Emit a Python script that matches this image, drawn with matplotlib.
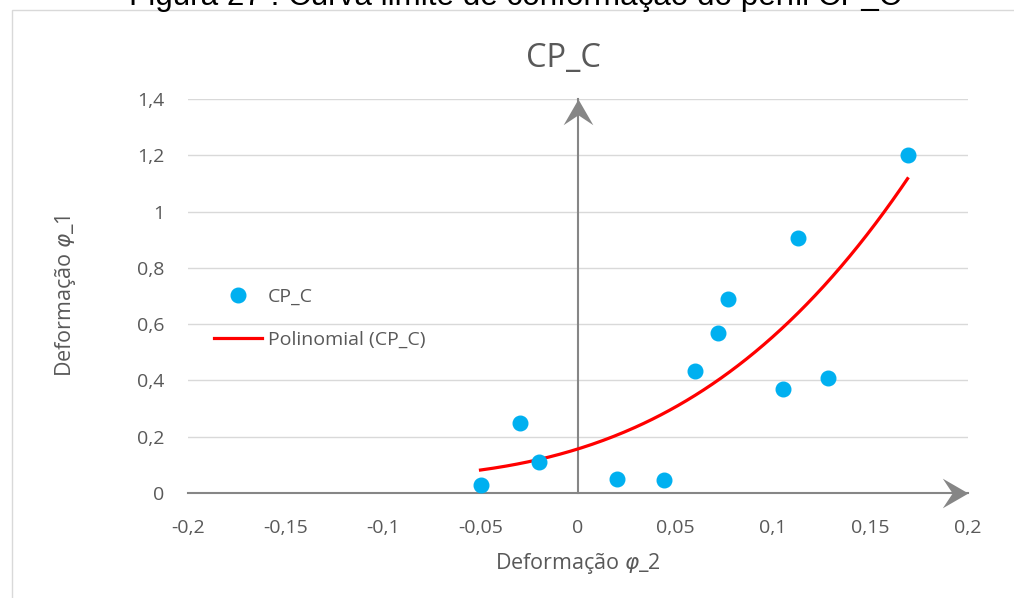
import numpy as np
import matplotlib
matplotlib.use('Agg')
import matplotlib.pyplot as plt
from matplotlib.path import Path
from matplotlib.patches import Rectangle

plt.rcParams['font.family'] = ['Open Sans', 'DejaVu Sans']
plt.rcParams['mathtext.fontset'] = 'dejavusans'

# data (phi_2, phi_1)
phi2 = [-0.05, -0.03, -0.02, 0.02, 0.044, 0.06, 0.072, 0.077, 0.105, 0.113, 0.128, 0.169]
phi1 = [0.03, 0.25, 0.11, 0.05, 0.045, 0.435, 0.57, 0.69, 0.37, 0.905, 0.41, 1.20]
xticks = [-0.2, -0.15, -0.1, -0.05, 0, 0.05, 0.1, 0.15, 0.2]
yticks = [0, 0.2, 0.4, 0.6, 0.8, 1.0, 1.2, 1.4]

grey_txt = '#595959'
axis_col = '#868686'
W, H = 1014, 598

def fmt(v):
    return ('%g' % v).replace('.', ',')

fig = plt.figure(figsize=(W/100, H/100), dpi=100)
ax = fig.add_axes([188/W, 105/H, 780/W, 394/H])

# outer chart frame
fig.patches.append(Rectangle((12/W, -0.1), 1.2, 1.1 - 10/H, transform=fig.transFigure,
                             fill=False, edgecolor='#d9d9d9', lw=1))

# trendline (Excel "Polinomial")
coef = np.polyfit(phi2, phi1, 3)
xs = np.linspace(min(phi2), max(phi2), 200)
ax.plot(xs, np.polyval(coef, xs), color='#ff0000', lw=2.3, label='Polinomial (CP_C)', zorder=4)
ax.plot(phi2, phi1, 'o', color='#00b0f0', ms=10.5, mec='#00b0f0', label='CP_C', zorder=5, ls='none')

ax.set_xlim(-0.2, 0.2)
ax.set_ylim(0, 1.4)
ax.set_xticks(xticks)
ax.set_yticks(yticks)
ax.set_xticklabels([fmt(v) for v in xticks])
ax.set_yticklabels([fmt(v) for v in yticks])
ax.tick_params(length=0, labelsize=14, colors=grey_txt)
ax.tick_params(axis='x', pad=19)
ax.tick_params(axis='y', pad=17)
for s in ax.spines.values():
    s.set_visible(False)
ax.grid(axis='y', color='#d9d9d9', lw=1)
ax.set_axisbelow(True)

# axis lines through origin with arrow heads
ax.plot([-0.2, 0.2], [0, 0], color=axis_col, lw=1.5, zorder=3, clip_on=False)
ax.plot([0, 0], [0, 1.4], color=axis_col, lw=1.5, zorder=3, clip_on=False)
arrow_r = Path([(0, 0), (-26, 15), (-16, 0), (-26, -15), (0, 0)],
               [Path.MOVETO, Path.LINETO, Path.LINETO, Path.LINETO, Path.CLOSEPOLY])
arrow_u = Path([(0, 0), (15, -26), (0, -16), (-15, -26), (0, 0)],
               [Path.MOVETO, Path.LINETO, Path.LINETO, Path.LINETO, Path.CLOSEPOLY])
ax.plot([0.2], [0], marker=arrow_r, ms=37, color=axis_col, mew=0, clip_on=False, zorder=3)
ax.plot([0], [1.4], marker=arrow_u, ms=37, color=axis_col, mew=0, clip_on=False, zorder=3)

fig.text(578/W, 1 - 563/H, 'Deformação $\\varphi$_2', ha='center', va='center',
         fontsize=15.5, color=grey_txt)
fig.text(66/W, 1 - 296/H, 'Deformação $\\varphi$_1', ha='center', va='center',
         rotation=90, fontsize=15.5, color=grey_txt)

fig.text(563/W, 1 - 67/H, 'CP_C', ha='center', va='baseline', fontsize=23.5, color=grey_txt)

cap = fig.text(515/W, 1 - 5/H, 'Figura 27 : Curva limite de conformação do perfil CP_C',
               ha='center', va='baseline', fontsize=20, color='black', family='Liberation Sans')
fig.canvas.draw()
wpx = cap.get_window_extent().width
cap.set_fontsize(20 * 770 / wpx)

h, l = ax.get_legend_handles_labels()
ax.legend(h[::-1], l[::-1], loc='upper left', bbox_to_anchor=(196/W, 1 - 270/H),
          bbox_transform=fig.transFigure, frameon=False, fontsize=14, labelcolor=grey_txt,
          handlelength=2.5, labelspacing=1.3, handletextpad=0.3)

fig.savefig('out.png', dpi=100)
